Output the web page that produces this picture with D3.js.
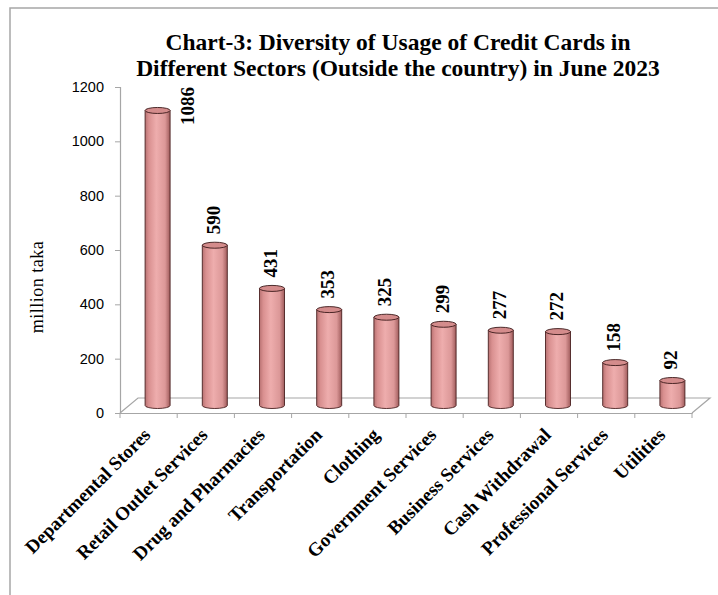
<!DOCTYPE html>
<html><head><meta charset="utf-8">
<script src="https://cdn.jsdelivr.net/npm/d3@7"></script>
<style>body{margin:0;background:#fff}svg{display:block}</style>
</head><body>
<svg id="chart" width="718" height="595"></svg>
<script>
const categories = ["Departmental Stores","Retail Outlet Services","Drug and Pharmacies","Transportation","Clothing","Government Services","Business Services","Cash Withdrawal","Professional Services","Utilities"];
const values = [1086,590,431,353,325,299,277,272,158,92];
const yTicks = [0,200,400,600,800,1000,1200];
const titleLines = ["Chart-3: Diversity of Usage of Credit Cards in","Different Sectors (Outside the country) in June 2023"];
const yLabel = "million taka";

(function(){
const svg = d3.select("#chart");
const pLeft = 120, pRight = 692, pTop = 87, pBottom = 413;
const depth = {x: 18, y: -15};
const serif = "'Liberation Serif','Times New Roman',serif";

// frame
svg.append("path").attr("d","M10,595 L10,8 L718,8").attr("fill","none").attr("stroke","#a6a6a6").attr("stroke-width",1.5);

const defs = svg.append("defs");
const g1 = defs.append("linearGradient").attr("id","cyl").attr("x1","0").attr("x2","1").attr("y1","0").attr("y2","0");
[[0,"#b87272"],[0.15,"#d99090"],[0.45,"#eeadad"],[0.8,"#dc9898"],[1,"#a05c5c"]].forEach(([o,c])=>g1.append("stop").attr("offset",o).attr("stop-color",c));

const x = d3.scaleBand().domain(categories).range([pLeft,pRight]).padding(0);
const y = d3.scaleLinear().domain([0,1200]).range([pBottom,pTop]);

// title
svg.append("g").selectAll("text").data(titleLines).join("text")
  .attr("x",398).attr("y",(d,i)=>50+i*26)
  .attr("text-anchor","middle").attr("font-family",serif).attr("font-weight","bold").attr("font-size",23.5)
  .attr("fill","#000").text(d=>d);

// floor
svg.append("path")
  .attr("d",`M${pLeft},${pBottom} L${pLeft+depth.x},${pBottom+depth.y} L${pRight+depth.x},${pBottom+depth.y} L${pRight},${pBottom}`)
  .attr("fill","none").attr("stroke","#a6a6a6").attr("stroke-width",1.2);

// y axis
const yAxis = svg.append("g").attr("transform",`translate(${pLeft},0)`)
  .call(d3.axisLeft(y).tickValues(yTicks).tickSize(5).tickPadding(11).tickFormat(d3.format("d")));
yAxis.select(".domain").attr("stroke","#a6a6a6").attr("stroke-width",1.2);
yAxis.selectAll(".tick line").attr("stroke","#a6a6a6");
yAxis.selectAll("text").attr("font-family","'Liberation Sans',Arial,sans-serif").attr("font-size",14.5).attr("fill","#000");

// x axis
const xAxis = svg.append("g").attr("transform",`translate(0,${pBottom})`)
  .call(d3.axisBottom(x).tickSize(0).tickFormat(""));
xAxis.select(".domain").attr("stroke","#a6a6a6").attr("stroke-width",1.2);
xAxis.selectAll(".tick").remove();
xAxis.selectAll("line.cat").data(categories.concat(["__end"])).join("line").attr("class","cat")
  .attr("x1",(d,i)=>pLeft+i*x.bandwidth()).attr("x2",(d,i)=>pLeft+i*x.bandwidth())
  .attr("y1",0).attr("y2",5).attr("stroke","#a6a6a6");

// x labels
svg.append("g").selectAll("text").data(categories).join("text")
  .attr("transform",d=>`translate(${x(d)+x.bandwidth()/2+3},${pBottom+23}) rotate(-45)`)
  .attr("text-anchor","end").attr("font-family",serif).attr("font-weight","bold").attr("font-size",19)
  .attr("fill","#000").text(d=>d);

// cylinders
const w = 25, ry = 3;
const bars = svg.append("g").selectAll("g").data(categories.map((c,i)=>({c,v:values[i]}))).join("g");
bars.each(function(d){
  const g = d3.select(this);
  const cx = x(d.c)+x.bandwidth()/2+depth.x/2;
  const yb = y(0)+depth.y/2;
  const yt = y(d.v)+depth.y/2;
  const l = cx-w/2, r = cx+w/2;
  g.append("path")
    .attr("d",`M${l},${yt} L${l},${yb} A${w/2},${ry} 0 0 0 ${r},${yb} L${r},${yt} Z`)
    .attr("fill","url(#cyl)").attr("stroke","#4a2020").attr("stroke-width",0.9);
  g.append("ellipse").attr("cx",cx).attr("cy",yt).attr("rx",w/2).attr("ry",ry)
    .attr("fill","#d48c8c").attr("stroke","#3a1818").attr("stroke-width",0.9);
  const t = g.append("text").attr("font-family",serif).attr("font-weight","bold").attr("font-size",19)
    .attr("fill","#000").text(d.v);
  const len = t.node().getComputedTextLength();
  let ys = yt-ry-8, xs = cx+5;
  if (ys-len < pTop) { ys = pTop+len; xs = cx+36; }
  t.attr("transform",`translate(${xs},${ys}) rotate(-90)`);
});

// y label
svg.append("text").attr("transform","translate(43,287) rotate(-90)")
  .attr("text-anchor","middle").attr("font-family",serif).attr("font-size",18).attr("letter-spacing",0.5)
  .attr("fill","#000").text(yLabel);
})();
</script>
</body></html>
